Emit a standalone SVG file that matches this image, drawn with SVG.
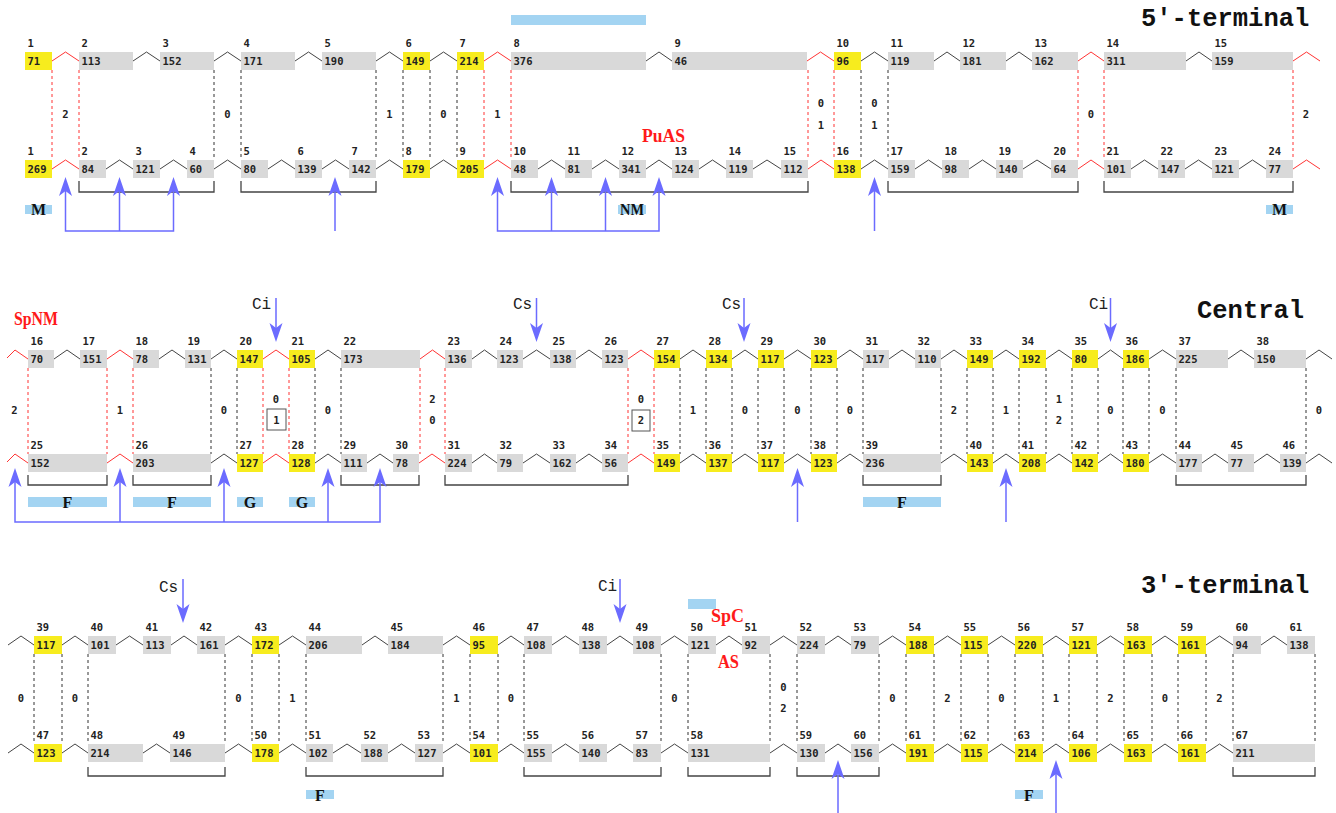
<svg xmlns="http://www.w3.org/2000/svg" xmlns:xlink="http://www.w3.org/1999/xlink" width="1336" height="813" viewBox="0 0 1336 813">
<style>
.y{fill:#f7ec1e}
.g{fill:#d9d9d9}
.lb,.nm,.gp{font-family:"DejaVu Sans Mono",monospace;font-weight:bold;font-size:10.5px;fill:#222}
.gp{text-anchor:middle}
.cr{fill:none;stroke:#ff3333;stroke-width:1}
.ck{fill:none;stroke:#444;stroke-width:1}
.dr{fill:none;stroke:#ff3333;stroke-width:1;stroke-dasharray:3 3}
.dk{fill:none;stroke:#333;stroke-width:1;stroke-dasharray:3 3}
.br{fill:none;stroke:#444;stroke-width:1.3}
.ar{fill:none;stroke:#6b6bff;stroke-width:1.5}
.bb{fill:#a3d4f2}
.bx{fill:#fff;stroke:#555;stroke-width:1}
.bt{font-family:"Liberation Serif",serif;font-weight:bold;font-size:16px;text-anchor:middle;fill:#111}
.rd{font-family:"Liberation Serif",serif;font-weight:bold;font-size:18.5px;fill:#ff1a1a}
.ti{font-family:"Liberation Mono","DejaVu Sans Mono",monospace;font-weight:bold;font-size:25.5px;fill:#111}
.ci{font-family:"Liberation Mono",monospace;font-size:16px;fill:#222}
</style>
<defs>
<path id="ah" d="M0,0 L6.5,19 L0,14 L-6.5,19 Z" fill="#6b6bff"/>
</defs>
<rect width="1336" height="813" fill="#fff"/>

<!-- titles and red labels -->
<text class="ti" x="1141" y="26">5′-terminal</text>
<text class="ti" x="1197" y="318">Central</text>
<text class="ti" x="1141" y="593">3′-terminal</text>
<text class="rd" x="642" y="142" textLength="43" lengthAdjust="spacingAndGlyphs">PuAS</text>
<text class="rd" x="14" y="325" textLength="44" lengthAdjust="spacingAndGlyphs">SpNM</text>
<text class="rd" x="711" y="622" textLength="33" lengthAdjust="spacingAndGlyphs">SpC</text>
<text class="rd" x="718" y="668" textLength="21" lengthAdjust="spacingAndGlyphs">AS</text>

<!-- connectors -->
<g id="connectors">
<path class="cr" d="M52,61L65.5,52L79,61 M484,61L497.5,52L511,61 M807,61L820.5,52L834,61 M1078,61L1091,52L1104,61 M1293,61L1306.5,52L1320,61"/>
<path class="ck" d="M133,61L146.5,52L160,61 M214,61L227.5,52L241,61 M295,61L308.5,52L322,61 M376,61L389.5,52L403,61 M430,61L443.5,52L457,61 M646,61L659,52L672,61 M861,61L874.5,52L888,61 M934,61L947,52L960,61 M1006,61L1019,52L1032,61 M1186,61L1199,52L1212,61"/>
<path class="cr" d="M52,169L65.5,160L79,169 M484,169L497.5,160L511,169 M808,169L821,160L834,169 M1078,169L1091,160L1104,169 M1293,169L1306.5,160L1320,169"/>
<path class="ck" d="M106,169L119.5,160L133,169 M160,169L173.5,160L187,169 M214,169L227.5,160L241,169 M268,169L281.5,160L295,169 M322,169L335.5,160L349,169 M376,169L389.5,160L403,169 M430,169L443.5,160L457,169 M538,169L551.5,160L565,169 M592,169L605.5,160L619,169 M646,169L659,160L672,169 M699,169L712.5,160L726,169 M753,169L767,160L781,169 M861,169L874.5,160L888,169 M915,169L928.5,160L942,169 M969,169L982.5,160L996,169 M1023,169L1037,160L1051,169 M1131,169L1144.5,160L1158,169 M1185,169L1198.5,160L1212,169 M1239,169L1252.5,160L1266,169"/>
<path class="cr" d="M7,358L15,350L28,359 M107,359L120,350L133,359 M263,359L276,350L289,359 M420,359L432.5,350L445,359 M628,359L641,350L654,359"/>
<path class="ck" d="M54,359L67,350L80,359 M159,359L172,350L185,359 M211,359L224,350L237,359 M315,359L328,350L341,359 M472,359L484.5,350L497,359 M523,359L536.5,350L550,359 M576,359L589,350L602,359 M680,359L693,350L706,359 M732,359L745,350L758,359 M784,359L797.5,350L811,359 M837,359L850,350L863,359 M889,359L902,350L915,359 M941,359L954,350L967,359 M993,359L1006,350L1019,359 M1046,359L1059,350L1072,359 M1098,359L1110.5,350L1123,359 M1149,359L1162.5,350L1176,359 M1228,359L1241,350L1254,359 M1306,359L1319,350L1332,359"/>
<path class="cr" d="M7,462L15,454L28,463 M107,463L120,454L133,463 M263,463L276,454L289,463 M419,463L432,454L445,463 M628,463L641,454L654,463"/>
<path class="ck" d="M211,463L224,454L237,463 M315,463L328,454L341,463 M367,463L380,454L393,463 M472,463L484.5,454L497,463 M523,463L536.5,454L550,463 M576,463L589,454L602,463 M680,463L693,454L706,463 M732,463L745,454L758,463 M784,463L797.5,454L811,463 M837,463L850,454L863,463 M941,463L954,454L967,463 M993,463L1006,454L1019,463 M1046,463L1059,454L1072,463 M1098,463L1110.5,454L1123,463 M1149,463L1162.5,454L1176,463 M1202,463L1215,454L1228,463 M1254,463L1267,454L1280,463 M1306,463L1319,454L1332,463"/>
<path class="ck" d="M8,645L21,636L34,645 M62,645L75,636L88,645 M116,645L129.5,636L143,645 M171,645L184,636L197,645 M225,645L238.5,636L252,645 M279,645L292.5,636L306,645 M362,645L375,636L388,645 M443,645L456.5,636L470,645 M498,645L511,636L524,645 M552,645L565.5,636L579,645 M607,645L620,636L633,645 M661,645L674.5,636L688,645 M716,645L729,636L742,645 M770,645L783.5,636L797,645 M825,645L838,636L851,645 M879,645L892.5,636L906,645 M934,645L947.5,636L961,645 M988,645L1001.5,636L1015,645 M1043,645L1056,636L1069,645 M1097,645L1110.5,636L1124,645 M1152,645L1165,636L1178,645 M1206,645L1219.5,636L1233,645 M1261,645L1274,636L1287,645"/>
<path class="ck" d="M8,753L21,744L34,753 M62,753L75,744L88,753 M143,753L156.5,744L170,753 M225,753L238.5,744L252,753 M279,753L292.5,744L306,753 M333,753L347,744L361,753 M388,753L401.5,744L415,753 M443,753L456.5,744L470,753 M498,753L511,744L524,753 M552,753L565.5,744L579,753 M607,753L620,744L633,753 M661,753L674.5,744L688,753 M770,753L783.5,744L797,753 M825,753L838,744L851,753 M879,753L892.5,744L906,753 M934,753L947.5,744L961,753 M988,753L1001.5,744L1015,753 M1043,753L1056,744L1069,753 M1097,753L1110.5,744L1124,753 M1152,753L1165,744L1178,753 M1206,753L1219.5,744L1233,753"/>

<path class="dr" d="M52,70V160 M79,70V160 M484,70V160 M511,70V160 M808,70V160 M834,70V160 M1078,70V160 M1104,70V160 M1293,70V160"/>
<path class="dk" d="M214,70V160 M241,70V160 M376,70V160 M403,70V160 M430,70V160 M457,70V160 M861,70V160 M888,70V160"/>
<path class="dr" d="M28,368V454 M107,368V454 M133,368V454 M263,368V454 M289,368V454 M420,368V454 M445,368V454 M628,368V454 M654,368V454"/>
<path class="dk" d="M211,368V454 M237,368V454 M315,368V454 M341,368V454 M680,368V454 M706,368V454 M732,368V454 M758,368V454 M784,368V454 M811,368V454 M837,368V454 M863,368V454 M941,368V454 M967,368V454 M993,368V454 M1019,368V454 M1046,368V454 M1072,368V454 M1098,368V454 M1123,368V454 M1149,368V454 M1176,368V454 M1306,368V454"/>
<path class="dk" d="M34,654V744 M62,654V744 M88,654V744 M225,654V744 M252,654V744 M279,654V744 M306,654V744 M443,654V744 M470,654V744 M498,654V744 M524,654V744 M661,654V744 M688,654V744 M770,654V744 M797,654V744 M879,654V744 M906,654V744 M934,654V744 M961,654V744 M988,654V744 M1015,654V744 M1043,654V744 M1069,654V744 M1097,654V744 M1124,654V744 M1152,654V744 M1178,654V744 M1206,654V744 M1233,654V744 M1315,654V744"/>

<path class="br" d="M79,181V192H214V181 M241,181V192H376V181 M511,181V192H808V181 M888,181V192H1078V181 M1104,181V192H1293V181"/>
<path class="br" d="M28,475V485H107V475 M133,475V485H211V475 M341,475V485H419V475 M445,475V485H628V475 M863,475V485H941V475 M1176,475V485H1306V475"/>
<path class="br" d="M88,767V776H225V767 M306,767V776H443V767 M524,767V776H661V767 M688,767V776H770V767 M797,767V776H879V767 M1233,767V776H1315V767"/>

<path class="ar" d="M65.5,188V231H173.5V188 M119.5,188V231 M335,188V231 M497.5,188V231H659V188 M551.5,188V231 M605.5,188V231 M874.5,188V231"/>
<use xlink:href="#ah" transform="translate(65.5,177)"/>
<use xlink:href="#ah" transform="translate(119.5,177)"/>
<use xlink:href="#ah" transform="translate(173.5,177)"/>
<use xlink:href="#ah" transform="translate(335,177)"/>
<use xlink:href="#ah" transform="translate(497.5,177)"/>
<use xlink:href="#ah" transform="translate(551.5,177)"/>
<use xlink:href="#ah" transform="translate(605.5,177)"/>
<use xlink:href="#ah" transform="translate(659,177)"/>
<use xlink:href="#ah" transform="translate(874.5,177)"/>

<path class="ar" d="M15,480V522H380V480 M120,480V522 M224,480V522 M328,480V522 M797.5,480V522 M1006,480V522"/>
<use xlink:href="#ah" transform="translate(15,468)"/>
<use xlink:href="#ah" transform="translate(120,468)"/>
<use xlink:href="#ah" transform="translate(224,468)"/>
<use xlink:href="#ah" transform="translate(328,468)"/>
<use xlink:href="#ah" transform="translate(380,468)"/>
<use xlink:href="#ah" transform="translate(797.5,468)"/>
<use xlink:href="#ah" transform="translate(1006,468)"/>

<path class="ar" d="M276,298V332 M536.5,298V332 M744,298V332 M1110.5,298V332"/>
<use xlink:href="#ah" transform="translate(276,342) rotate(180)"/>
<use xlink:href="#ah" transform="translate(536.5,342) rotate(180)"/>
<use xlink:href="#ah" transform="translate(744,342) rotate(180)"/>
<use xlink:href="#ah" transform="translate(1110.5,342) rotate(180)"/>

<path class="ar" d="M183,579V613 M620,579V613 M838,772V813 M1056,772V813"/>
<use xlink:href="#ah" transform="translate(183,623) rotate(180)"/>
<use xlink:href="#ah" transform="translate(620,623) rotate(180)"/>
<use xlink:href="#ah" transform="translate(838,760)"/>
<use xlink:href="#ah" transform="translate(1056,760)"/>
</g>

<!-- arrow labels -->
<g id="arrow-labels">
<text class="ci" x="252" y="309">Ci</text>
<text class="ci" x="513" y="309">Cs</text>
<text class="ci" x="722" y="309">Cs</text>
<text class="ci" x="1089" y="309">Ci</text>
<text class="ci" x="159" y="592">Cs</text>
<text class="ci" x="598" y="591">Ci</text>
</g>

<!-- blue bars -->
<g id="bars">
<rect class="bb" x="511" y="15" width="135" height="10"/>
<rect class="bb" x="25" y="205" width="27" height="9"/><text class="bt" x="38.5" y="215">M</text>
<rect class="bb" x="618" y="205" width="28" height="9"/><text class="bt" x="632" y="215" textLength="24" lengthAdjust="spacingAndGlyphs">NM</text>
<rect class="bb" x="1266" y="205" width="27" height="9"/><text class="bt" x="1279.5" y="215">M</text>
<rect class="bb" x="28" y="497" width="79" height="10"/><text class="bt" x="67.5" y="508">F</text>
<rect class="bb" x="133" y="497" width="78" height="10"/><text class="bt" x="172" y="508">F</text>
<rect class="bb" x="237" y="497" width="26" height="10"/><text class="bt" x="250" y="508">G</text>
<rect class="bb" x="289" y="497" width="26" height="10"/><text class="bt" x="302" y="508">G</text>
<rect class="bb" x="863" y="497" width="78" height="10"/><text class="bt" x="902" y="508">F</text>
<rect class="bb" x="306" y="790" width="28" height="9"/><text class="bt" x="320" y="801">F</text>
<rect class="bb" x="1015" y="790" width="28" height="9"/><text class="bt" x="1029" y="801">F</text>
<rect class="bb" x="688" y="599" width="28" height="10"/>
</g>

<!-- gap labels -->
<g id="gaps">
<text class="gp" x="65.5" y="117.5">2</text>
<text class="gp" x="227.5" y="117.5">0</text>
<text class="gp" x="389.5" y="117.5">1</text>
<text class="gp" x="443.5" y="117.5">0</text>
<text class="gp" x="497.5" y="117.5">1</text>
<text class="gp" x="821" y="106.5">0</text><text class="gp" x="821" y="128.5">1</text>
<text class="gp" x="874.5" y="106.5">0</text><text class="gp" x="874.5" y="128.5">1</text>
<text class="gp" x="1091" y="117.5">0</text>
<text class="gp" x="1306" y="117.5">2</text>

<text class="gp" x="14.5" y="413.5">2</text>
<text class="gp" x="120" y="413.5">1</text>
<text class="gp" x="224" y="413.5">0</text>
<text class="gp" x="276" y="402.5">0</text>
<rect class="bx" x="267" y="409" width="19" height="21"/><text class="gp" x="276.5" y="423.5">1</text>
<text class="gp" x="328" y="413.5">0</text>
<text class="gp" x="432.5" y="402.5">2</text><text class="gp" x="432.5" y="424">0</text>
<text class="gp" x="641" y="402.5">0</text>
<rect class="bx" x="632" y="410" width="18" height="21"/><text class="gp" x="641" y="424">2</text>
<text class="gp" x="693" y="413.5">1</text>
<text class="gp" x="745" y="413.5">0</text>
<text class="gp" x="797.5" y="413.5">0</text>
<text class="gp" x="850" y="413.5">0</text>
<text class="gp" x="954" y="413.5">2</text>
<text class="gp" x="1006" y="413.5">1</text>
<text class="gp" x="1059" y="402.5">1</text><text class="gp" x="1059" y="424">2</text>
<text class="gp" x="1110.5" y="413.5">0</text>
<text class="gp" x="1162.5" y="413.5">0</text>
<text class="gp" x="1319" y="413.5">0</text>

<text class="gp" x="21" y="701.5">0</text>
<text class="gp" x="75" y="701.5">0</text>
<text class="gp" x="238.5" y="701.5">0</text>
<text class="gp" x="292.5" y="701.5">1</text>
<text class="gp" x="456.5" y="701.5">1</text>
<text class="gp" x="511" y="701.5">0</text>
<text class="gp" x="674.5" y="701.5">0</text>
<text class="gp" x="783.5" y="690.5">0</text><text class="gp" x="783.5" y="712">2</text>
<text class="gp" x="892.5" y="701.5">0</text>
<text class="gp" x="947.5" y="701.5">2</text>
<text class="gp" x="1001.5" y="701.5">0</text>
<text class="gp" x="1056" y="701.5">1</text>
<text class="gp" x="1110.5" y="701.5">2</text>
<text class="gp" x="1165" y="701.5">0</text>
<text class="gp" x="1219.5" y="701.5">2</text>
</g>

<!-- Row 1 top -->
<g id="r1t1"><rect class="y" x="25" y="52" width="27" height="18"/><text class="lb" x="27.5" y="47">1</text><text class="nm" x="27.5" y="65">71</text></g>
<g id="r1t2"><rect class="g" x="79" y="52" width="54" height="18"/><text class="lb" x="81.5" y="47">2</text><text class="nm" x="81.5" y="65">113</text></g>
<g id="r1t3"><rect class="g" x="160" y="52" width="54" height="18"/><text class="lb" x="162.5" y="47">3</text><text class="nm" x="162.5" y="65">152</text></g>
<g id="r1t4"><rect class="g" x="241" y="52" width="54" height="18"/><text class="lb" x="243.5" y="47">4</text><text class="nm" x="243.5" y="65">171</text></g>
<g id="r1t5"><rect class="g" x="322" y="52" width="54" height="18"/><text class="lb" x="324.5" y="47">5</text><text class="nm" x="324.5" y="65">190</text></g>
<g id="r1t6"><rect class="y" x="403" y="52" width="27" height="18"/><text class="lb" x="405.5" y="47">6</text><text class="nm" x="405.5" y="65">149</text></g>
<g id="r1t7"><rect class="y" x="457" y="52" width="27" height="18"/><text class="lb" x="459.5" y="47">7</text><text class="nm" x="459.5" y="65">214</text></g>
<g id="r1t8"><rect class="g" x="511" y="52" width="135" height="18"/><text class="lb" x="513.5" y="47">8</text><text class="nm" x="513.5" y="65">376</text></g>
<g id="r1t9"><rect class="g" x="672" y="52" width="135" height="18"/><text class="lb" x="674.5" y="47">9</text><text class="nm" x="674.5" y="65">46</text></g>
<g id="r1t10"><rect class="y" x="834" y="52" width="27" height="18"/><text class="lb" x="836.5" y="47">10</text><text class="nm" x="836.5" y="65">96</text></g>
<g id="r1t11"><rect class="g" x="888" y="52" width="46" height="18"/><text class="lb" x="890.5" y="47">11</text><text class="nm" x="890.5" y="65">119</text></g>
<g id="r1t12"><rect class="g" x="960" y="52" width="46" height="18"/><text class="lb" x="962.5" y="47">12</text><text class="nm" x="962.5" y="65">181</text></g>
<g id="r1t13"><rect class="g" x="1032" y="52" width="46" height="18"/><text class="lb" x="1034.5" y="47">13</text><text class="nm" x="1034.5" y="65">162</text></g>
<g id="r1t14"><rect class="g" x="1104" y="52" width="82" height="18"/><text class="lb" x="1106.5" y="47">14</text><text class="nm" x="1106.5" y="65">311</text></g>
<g id="r1t15"><rect class="g" x="1212" y="52" width="81" height="18"/><text class="lb" x="1214.5" y="47">15</text><text class="nm" x="1214.5" y="65">159</text></g>

<!-- Row 1 bottom -->
<g id="r1b1"><rect class="y" x="25" y="160" width="27" height="18"/><text class="lb" x="27.5" y="155">1</text><text class="nm" x="27.5" y="173">269</text></g>
<g id="r1b2"><rect class="g" x="79" y="160" width="27" height="18"/><text class="lb" x="81.5" y="155">2</text><text class="nm" x="81.5" y="173">84</text></g>
<g id="r1b3"><rect class="g" x="133" y="160" width="27" height="18"/><text class="lb" x="135.5" y="155">3</text><text class="nm" x="135.5" y="173">121</text></g>
<g id="r1b4"><rect class="g" x="187" y="160" width="27" height="18"/><text class="lb" x="189.5" y="155">4</text><text class="nm" x="189.5" y="173">60</text></g>
<g id="r1b5"><rect class="g" x="241" y="160" width="27" height="18"/><text class="lb" x="243.5" y="155">5</text><text class="nm" x="243.5" y="173">80</text></g>
<g id="r1b6"><rect class="g" x="295" y="160" width="27" height="18"/><text class="lb" x="297.5" y="155">6</text><text class="nm" x="297.5" y="173">139</text></g>
<g id="r1b7"><rect class="g" x="349" y="160" width="27" height="18"/><text class="lb" x="351.5" y="155">7</text><text class="nm" x="351.5" y="173">142</text></g>
<g id="r1b8"><rect class="y" x="403" y="160" width="27" height="18"/><text class="lb" x="405.5" y="155">8</text><text class="nm" x="405.5" y="173">179</text></g>
<g id="r1b9"><rect class="y" x="457" y="160" width="27" height="18"/><text class="lb" x="459.5" y="155">9</text><text class="nm" x="459.5" y="173">205</text></g>
<g id="r1b10"><rect class="g" x="511" y="160" width="27" height="18"/><text class="lb" x="513.5" y="155">10</text><text class="nm" x="513.5" y="173">48</text></g>
<g id="r1b11"><rect class="g" x="565" y="160" width="27" height="18"/><text class="lb" x="567.5" y="155">11</text><text class="nm" x="567.5" y="173">81</text></g>
<g id="r1b12"><rect class="g" x="619" y="160" width="27" height="18"/><text class="lb" x="621.5" y="155">12</text><text class="nm" x="621.5" y="173">341</text></g>
<g id="r1b13"><rect class="g" x="672" y="160" width="27" height="18"/><text class="lb" x="674.5" y="155">13</text><text class="nm" x="674.5" y="173">124</text></g>
<g id="r1b14"><rect class="g" x="726" y="160" width="27" height="18"/><text class="lb" x="728.5" y="155">14</text><text class="nm" x="728.5" y="173">119</text></g>
<g id="r1b15"><rect class="g" x="781" y="160" width="27" height="18"/><text class="lb" x="783.5" y="155">15</text><text class="nm" x="783.5" y="173">112</text></g>
<g id="r1b16"><rect class="y" x="834" y="160" width="27" height="18"/><text class="lb" x="836.5" y="155">16</text><text class="nm" x="836.5" y="173">138</text></g>
<g id="r1b17"><rect class="g" x="888" y="160" width="27" height="18"/><text class="lb" x="890.5" y="155">17</text><text class="nm" x="890.5" y="173">159</text></g>
<g id="r1b18"><rect class="g" x="942" y="160" width="27" height="18"/><text class="lb" x="944.5" y="155">18</text><text class="nm" x="944.5" y="173">98</text></g>
<g id="r1b19"><rect class="g" x="996" y="160" width="27" height="18"/><text class="lb" x="998.5" y="155">19</text><text class="nm" x="998.5" y="173">140</text></g>
<g id="r1b20"><rect class="g" x="1051" y="160" width="27" height="18"/><text class="lb" x="1053.5" y="155">20</text><text class="nm" x="1053.5" y="173">64</text></g>
<g id="r1b21"><rect class="g" x="1104" y="160" width="27" height="18"/><text class="lb" x="1106.5" y="155">21</text><text class="nm" x="1106.5" y="173">101</text></g>
<g id="r1b22"><rect class="g" x="1158" y="160" width="27" height="18"/><text class="lb" x="1160.5" y="155">22</text><text class="nm" x="1160.5" y="173">147</text></g>
<g id="r1b23"><rect class="g" x="1212" y="160" width="27" height="18"/><text class="lb" x="1214.5" y="155">23</text><text class="nm" x="1214.5" y="173">121</text></g>
<g id="r1b24"><rect class="g" x="1266" y="160" width="27" height="18"/><text class="lb" x="1268.5" y="155">24</text><text class="nm" x="1268.5" y="173">77</text></g>

<!-- Row 2 top -->
<g id="r2t16"><rect class="g" x="28" y="350" width="26" height="18"/><text class="lb" x="30.5" y="345">16</text><text class="nm" x="30.5" y="363">70</text></g>
<g id="r2t17"><rect class="g" x="80" y="350" width="27" height="18"/><text class="lb" x="82.5" y="345">17</text><text class="nm" x="82.5" y="363">151</text></g>
<g id="r2t18"><rect class="g" x="133" y="350" width="26" height="18"/><text class="lb" x="135.5" y="345">18</text><text class="nm" x="135.5" y="363">78</text></g>
<g id="r2t19"><rect class="g" x="185" y="350" width="26" height="18"/><text class="lb" x="187.5" y="345">19</text><text class="nm" x="187.5" y="363">131</text></g>
<g id="r2t20"><rect class="y" x="237" y="350" width="26" height="18"/><text class="lb" x="239.5" y="345">20</text><text class="nm" x="239.5" y="363">147</text></g>
<g id="r2t21"><rect class="y" x="289" y="350" width="26" height="18"/><text class="lb" x="291.5" y="345">21</text><text class="nm" x="291.5" y="363">105</text></g>
<g id="r2t22"><rect class="g" x="341" y="350" width="79" height="18"/><text class="lb" x="343.5" y="345">22</text><text class="nm" x="343.5" y="363">173</text></g>
<g id="r2t23"><rect class="g" x="445" y="350" width="27" height="18"/><text class="lb" x="447.5" y="345">23</text><text class="nm" x="447.5" y="363">136</text></g>
<g id="r2t24"><rect class="g" x="497" y="350" width="26" height="18"/><text class="lb" x="499.5" y="345">24</text><text class="nm" x="499.5" y="363">123</text></g>
<g id="r2t25"><rect class="g" x="550" y="350" width="26" height="18"/><text class="lb" x="552.5" y="345">25</text><text class="nm" x="552.5" y="363">138</text></g>
<g id="r2t26"><rect class="g" x="602" y="350" width="26" height="18"/><text class="lb" x="604.5" y="345">26</text><text class="nm" x="604.5" y="363">123</text></g>
<g id="r2t27"><rect class="y" x="654" y="350" width="26" height="18"/><text class="lb" x="656.5" y="345">27</text><text class="nm" x="656.5" y="363">154</text></g>
<g id="r2t28"><rect class="y" x="706" y="350" width="26" height="18"/><text class="lb" x="708.5" y="345">28</text><text class="nm" x="708.5" y="363">134</text></g>
<g id="r2t29"><rect class="y" x="758" y="350" width="26" height="18"/><text class="lb" x="760.5" y="345">29</text><text class="nm" x="760.5" y="363">117</text></g>
<g id="r2t30"><rect class="y" x="811" y="350" width="26" height="18"/><text class="lb" x="813.5" y="345">30</text><text class="nm" x="813.5" y="363">123</text></g>
<g id="r2t31"><rect class="g" x="863" y="350" width="26" height="18"/><text class="lb" x="865.5" y="345">31</text><text class="nm" x="865.5" y="363">117</text></g>
<g id="r2t32"><rect class="g" x="915" y="350" width="26" height="18"/><text class="lb" x="917.5" y="345">32</text><text class="nm" x="917.5" y="363">110</text></g>
<g id="r2t33"><rect class="y" x="967" y="350" width="26" height="18"/><text class="lb" x="969.5" y="345">33</text><text class="nm" x="969.5" y="363">149</text></g>
<g id="r2t34"><rect class="y" x="1019" y="350" width="27" height="18"/><text class="lb" x="1021.5" y="345">34</text><text class="nm" x="1021.5" y="363">192</text></g>
<g id="r2t35"><rect class="y" x="1072" y="350" width="26" height="18"/><text class="lb" x="1074.5" y="345">35</text><text class="nm" x="1074.5" y="363">80</text></g>
<g id="r2t36"><rect class="y" x="1123" y="350" width="26" height="18"/><text class="lb" x="1125.5" y="345">36</text><text class="nm" x="1125.5" y="363">186</text></g>
<g id="r2t37"><rect class="g" x="1176" y="350" width="52" height="18"/><text class="lb" x="1178.5" y="345">37</text><text class="nm" x="1178.5" y="363">225</text></g>
<g id="r2t38"><rect class="g" x="1254" y="350" width="52" height="18"/><text class="lb" x="1256.5" y="345">38</text><text class="nm" x="1256.5" y="363">150</text></g>

<!-- Row 2 bottom -->
<g id="r2b25"><rect class="g" x="28" y="454" width="79" height="18"/><text class="lb" x="30.5" y="449">25</text><text class="nm" x="30.5" y="467">152</text></g>
<g id="r2b26"><rect class="g" x="133" y="454" width="78" height="18"/><text class="lb" x="135.5" y="449">26</text><text class="nm" x="135.5" y="467">203</text></g>
<g id="r2b27"><rect class="y" x="237" y="454" width="26" height="18"/><text class="lb" x="239.5" y="449">27</text><text class="nm" x="239.5" y="467">127</text></g>
<g id="r2b28"><rect class="y" x="289" y="454" width="26" height="18"/><text class="lb" x="291.5" y="449">28</text><text class="nm" x="291.5" y="467">128</text></g>
<g id="r2b29"><rect class="g" x="341" y="454" width="26" height="18"/><text class="lb" x="343.5" y="449">29</text><text class="nm" x="343.5" y="467">111</text></g>
<g id="r2b30"><rect class="g" x="393" y="454" width="26" height="18"/><text class="lb" x="395.5" y="449">30</text><text class="nm" x="395.5" y="467">78</text></g>
<g id="r2b31"><rect class="g" x="445" y="454" width="27" height="18"/><text class="lb" x="447.5" y="449">31</text><text class="nm" x="447.5" y="467">224</text></g>
<g id="r2b32"><rect class="g" x="497" y="454" width="26" height="18"/><text class="lb" x="499.5" y="449">32</text><text class="nm" x="499.5" y="467">79</text></g>
<g id="r2b33"><rect class="g" x="550" y="454" width="26" height="18"/><text class="lb" x="552.5" y="449">33</text><text class="nm" x="552.5" y="467">162</text></g>
<g id="r2b34"><rect class="g" x="602" y="454" width="26" height="18"/><text class="lb" x="604.5" y="449">34</text><text class="nm" x="604.5" y="467">56</text></g>
<g id="r2b35"><rect class="y" x="654" y="454" width="26" height="18"/><text class="lb" x="656.5" y="449">35</text><text class="nm" x="656.5" y="467">149</text></g>
<g id="r2b36"><rect class="y" x="706" y="454" width="26" height="18"/><text class="lb" x="708.5" y="449">36</text><text class="nm" x="708.5" y="467">137</text></g>
<g id="r2b37"><rect class="y" x="758" y="454" width="26" height="18"/><text class="lb" x="760.5" y="449">37</text><text class="nm" x="760.5" y="467">117</text></g>
<g id="r2b38"><rect class="y" x="811" y="454" width="26" height="18"/><text class="lb" x="813.5" y="449">38</text><text class="nm" x="813.5" y="467">123</text></g>
<g id="r2b39"><rect class="g" x="863" y="454" width="78" height="18"/><text class="lb" x="865.5" y="449">39</text><text class="nm" x="865.5" y="467">236</text></g>
<g id="r2b40"><rect class="y" x="967" y="454" width="26" height="18"/><text class="lb" x="969.5" y="449">40</text><text class="nm" x="969.5" y="467">143</text></g>
<g id="r2b41"><rect class="y" x="1019" y="454" width="27" height="18"/><text class="lb" x="1021.5" y="449">41</text><text class="nm" x="1021.5" y="467">208</text></g>
<g id="r2b42"><rect class="y" x="1072" y="454" width="26" height="18"/><text class="lb" x="1074.5" y="449">42</text><text class="nm" x="1074.5" y="467">142</text></g>
<g id="r2b43"><rect class="y" x="1123" y="454" width="26" height="18"/><text class="lb" x="1125.5" y="449">43</text><text class="nm" x="1125.5" y="467">180</text></g>
<g id="r2b44"><rect class="g" x="1176" y="454" width="26" height="18"/><text class="lb" x="1178.5" y="449">44</text><text class="nm" x="1178.5" y="467">177</text></g>
<g id="r2b45"><rect class="g" x="1228" y="454" width="26" height="18"/><text class="lb" x="1230.5" y="449">45</text><text class="nm" x="1230.5" y="467">77</text></g>
<g id="r2b46"><rect class="g" x="1280" y="454" width="26" height="18"/><text class="lb" x="1282.5" y="449">46</text><text class="nm" x="1282.5" y="467">139</text></g>

<!-- Row 3 top -->
<g id="r3t39"><rect class="y" x="34" y="636" width="28" height="18"/><text class="lb" x="36.5" y="631">39</text><text class="nm" x="36.5" y="649">117</text></g>
<g id="r3t40"><rect class="g" x="88" y="636" width="28" height="18"/><text class="lb" x="90.5" y="631">40</text><text class="nm" x="90.5" y="649">101</text></g>
<g id="r3t41"><rect class="g" x="143" y="636" width="28" height="18"/><text class="lb" x="145.5" y="631">41</text><text class="nm" x="145.5" y="649">113</text></g>
<g id="r3t42"><rect class="g" x="197" y="636" width="28" height="18"/><text class="lb" x="199.5" y="631">42</text><text class="nm" x="199.5" y="649">161</text></g>
<g id="r3t43"><rect class="y" x="252" y="636" width="27" height="18"/><text class="lb" x="254.5" y="631">43</text><text class="nm" x="254.5" y="649">172</text></g>
<g id="r3t44"><rect class="g" x="306" y="636" width="56" height="18"/><text class="lb" x="308.5" y="631">44</text><text class="nm" x="308.5" y="649">206</text></g>
<g id="r3t45"><rect class="g" x="388" y="636" width="55" height="18"/><text class="lb" x="390.5" y="631">45</text><text class="nm" x="390.5" y="649">184</text></g>
<g id="r3t46"><rect class="y" x="470" y="636" width="28" height="18"/><text class="lb" x="472.5" y="631">46</text><text class="nm" x="472.5" y="649">95</text></g>
<g id="r3t47"><rect class="g" x="524" y="636" width="28" height="18"/><text class="lb" x="526.5" y="631">47</text><text class="nm" x="526.5" y="649">108</text></g>
<g id="r3t48"><rect class="g" x="579" y="636" width="28" height="18"/><text class="lb" x="581.5" y="631">48</text><text class="nm" x="581.5" y="649">138</text></g>
<g id="r3t49"><rect class="g" x="633" y="636" width="28" height="18"/><text class="lb" x="635.5" y="631">49</text><text class="nm" x="635.5" y="649">108</text></g>
<g id="r3t50"><rect class="g" x="688" y="636" width="28" height="18"/><text class="lb" x="690.5" y="631">50</text><text class="nm" x="690.5" y="649">121</text></g>
<g id="r3t51"><rect class="g" x="742" y="636" width="28" height="18"/><text class="lb" x="744.5" y="631">51</text><text class="nm" x="744.5" y="649">92</text></g>
<g id="r3t52"><rect class="g" x="797" y="636" width="28" height="18"/><text class="lb" x="799.5" y="631">52</text><text class="nm" x="799.5" y="649">224</text></g>
<g id="r3t53"><rect class="g" x="851" y="636" width="28" height="18"/><text class="lb" x="853.5" y="631">53</text><text class="nm" x="853.5" y="649">79</text></g>
<g id="r3t54"><rect class="y" x="906" y="636" width="28" height="18"/><text class="lb" x="908.5" y="631">54</text><text class="nm" x="908.5" y="649">188</text></g>
<g id="r3t55"><rect class="y" x="961" y="636" width="27" height="18"/><text class="lb" x="963.5" y="631">55</text><text class="nm" x="963.5" y="649">115</text></g>
<g id="r3t56"><rect class="y" x="1015" y="636" width="28" height="18"/><text class="lb" x="1017.5" y="631">56</text><text class="nm" x="1017.5" y="649">220</text></g>
<g id="r3t57"><rect class="y" x="1069" y="636" width="28" height="18"/><text class="lb" x="1071.5" y="631">57</text><text class="nm" x="1071.5" y="649">121</text></g>
<g id="r3t58"><rect class="y" x="1124" y="636" width="28" height="18"/><text class="lb" x="1126.5" y="631">58</text><text class="nm" x="1126.5" y="649">163</text></g>
<g id="r3t59"><rect class="y" x="1178" y="636" width="28" height="18"/><text class="lb" x="1180.5" y="631">59</text><text class="nm" x="1180.5" y="649">161</text></g>
<g id="r3t60"><rect class="g" x="1233" y="636" width="28" height="18"/><text class="lb" x="1235.5" y="631">60</text><text class="nm" x="1235.5" y="649">94</text></g>
<g id="r3t61"><rect class="g" x="1287" y="636" width="28" height="18"/><text class="lb" x="1289.5" y="631">61</text><text class="nm" x="1289.5" y="649">138</text></g>

<!-- Row 3 bottom -->
<g id="r3b47"><rect class="y" x="34" y="744" width="28" height="18"/><text class="lb" x="36.5" y="739">47</text><text class="nm" x="36.5" y="757">123</text></g>
<g id="r3b48"><rect class="g" x="88" y="744" width="55" height="18"/><text class="lb" x="90.5" y="739">48</text><text class="nm" x="90.5" y="757">214</text></g>
<g id="r3b49"><rect class="g" x="170" y="744" width="55" height="18"/><text class="lb" x="172.5" y="739">49</text><text class="nm" x="172.5" y="757">146</text></g>
<g id="r3b50"><rect class="y" x="252" y="744" width="27" height="18"/><text class="lb" x="254.5" y="739">50</text><text class="nm" x="254.5" y="757">178</text></g>
<g id="r3b51"><rect class="g" x="306" y="744" width="27" height="18"/><text class="lb" x="308.5" y="739">51</text><text class="nm" x="308.5" y="757">102</text></g>
<g id="r3b52"><rect class="g" x="361" y="744" width="27" height="18"/><text class="lb" x="363.5" y="739">52</text><text class="nm" x="363.5" y="757">188</text></g>
<g id="r3b53"><rect class="g" x="415" y="744" width="28" height="18"/><text class="lb" x="417.5" y="739">53</text><text class="nm" x="417.5" y="757">127</text></g>
<g id="r3b54"><rect class="y" x="470" y="744" width="28" height="18"/><text class="lb" x="472.5" y="739">54</text><text class="nm" x="472.5" y="757">101</text></g>
<g id="r3b55"><rect class="g" x="524" y="744" width="28" height="18"/><text class="lb" x="526.5" y="739">55</text><text class="nm" x="526.5" y="757">155</text></g>
<g id="r3b56"><rect class="g" x="579" y="744" width="28" height="18"/><text class="lb" x="581.5" y="739">56</text><text class="nm" x="581.5" y="757">140</text></g>
<g id="r3b57"><rect class="g" x="633" y="744" width="28" height="18"/><text class="lb" x="635.5" y="739">57</text><text class="nm" x="635.5" y="757">83</text></g>
<g id="r3b58"><rect class="g" x="688" y="744" width="82" height="18"/><text class="lb" x="690.5" y="739">58</text><text class="nm" x="690.5" y="757">131</text></g>
<g id="r3b59"><rect class="g" x="797" y="744" width="28" height="18"/><text class="lb" x="799.5" y="739">59</text><text class="nm" x="799.5" y="757">130</text></g>
<g id="r3b60"><rect class="g" x="851" y="744" width="28" height="18"/><text class="lb" x="853.5" y="739">60</text><text class="nm" x="853.5" y="757">156</text></g>
<g id="r3b61"><rect class="y" x="906" y="744" width="28" height="18"/><text class="lb" x="908.5" y="739">61</text><text class="nm" x="908.5" y="757">191</text></g>
<g id="r3b62"><rect class="y" x="961" y="744" width="27" height="18"/><text class="lb" x="963.5" y="739">62</text><text class="nm" x="963.5" y="757">115</text></g>
<g id="r3b63"><rect class="y" x="1015" y="744" width="28" height="18"/><text class="lb" x="1017.5" y="739">63</text><text class="nm" x="1017.5" y="757">214</text></g>
<g id="r3b64"><rect class="y" x="1069" y="744" width="28" height="18"/><text class="lb" x="1071.5" y="739">64</text><text class="nm" x="1071.5" y="757">106</text></g>
<g id="r3b65"><rect class="y" x="1124" y="744" width="28" height="18"/><text class="lb" x="1126.5" y="739">65</text><text class="nm" x="1126.5" y="757">163</text></g>
<g id="r3b66"><rect class="y" x="1178" y="744" width="28" height="18"/><text class="lb" x="1180.5" y="739">66</text><text class="nm" x="1180.5" y="757">161</text></g>
<g id="r3b67"><rect class="g" x="1233" y="744" width="82" height="18"/><text class="lb" x="1235.5" y="739">67</text><text class="nm" x="1235.5" y="757">211</text></g>
</svg>
